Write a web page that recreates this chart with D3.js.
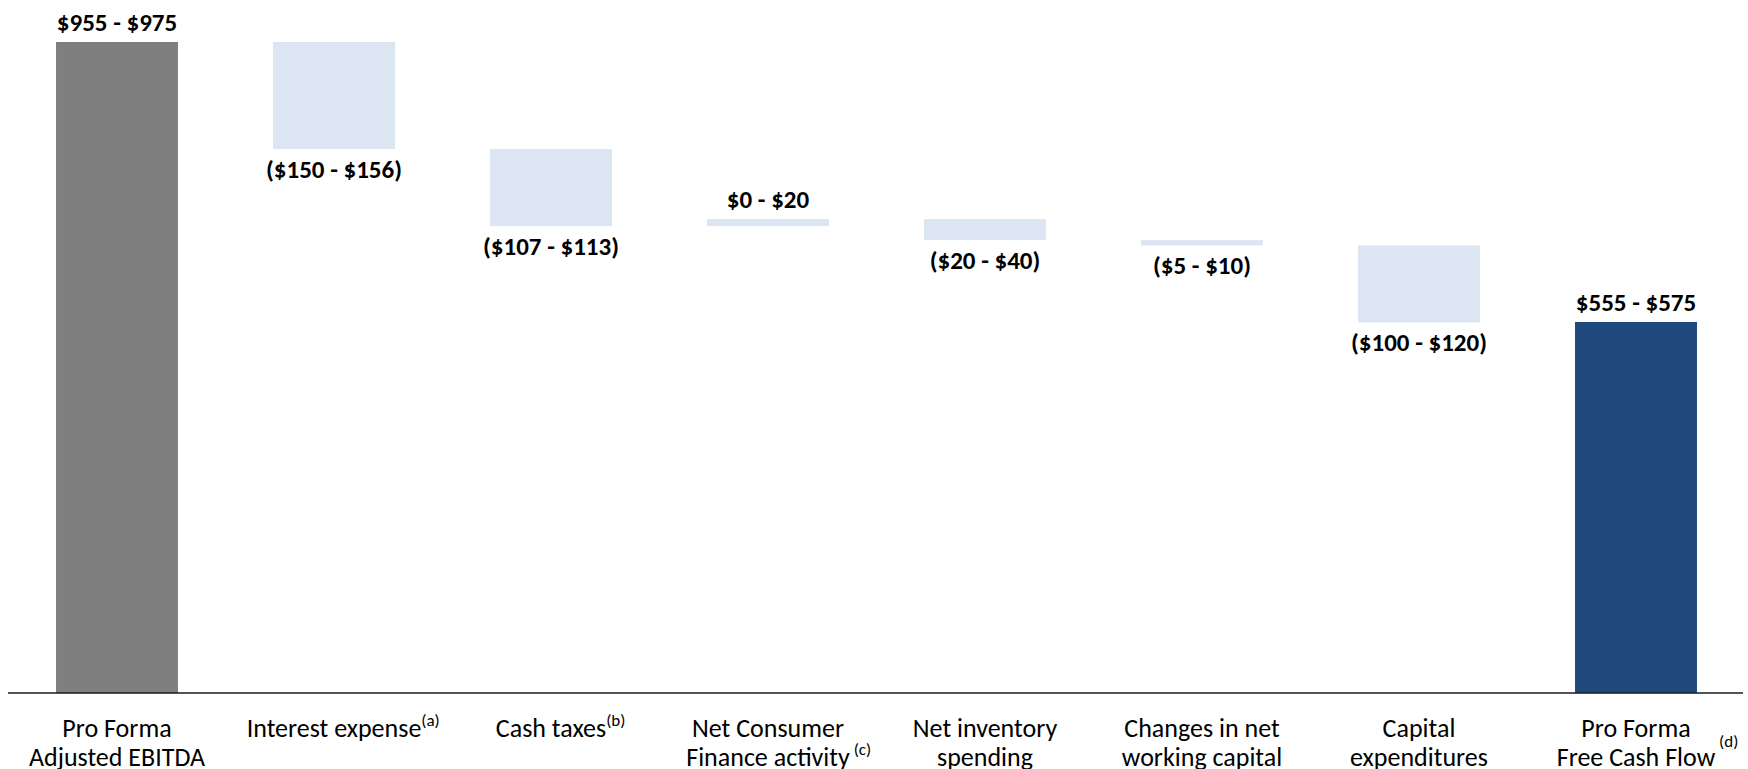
<!DOCTYPE html>
<meta charset="utf-8">
<title>Pro Forma Free Cash Flow bridge</title>
<script src="https://cdn.jsdelivr.net/npm/d3@7"></script>
<style>
  body { margin: 0; background: #fff; }
  svg text { font-family: Carlito, Calibri, Lato, sans-serif; fill: #000; }
  .val { font-size: 25px; font-weight: 700; }
  .cat { font-size: 26px; }
  .note { font-size: 17px; }
</style>
<div id="chart"></div>
<script>

  // categories, split into label lines
  var categories = ["ebitda", "interest", "taxes", "consumer", "inventory", "nwc", "capex", "fcf"];
  var catLines = [
    ["Pro Forma", "Adjusted EBITDA"],
    ["Interest expense"],
    ["Cash taxes"],
    ["Net Consumer", "Finance activity"],
    ["Net inventory", "spending"],
    ["Changes in net", "working capital"],
    ["Capital", "expenditures"],
    ["Pro Forma", "Free Cash Flow"]
  ];
  var notes = ["", "(a)", "(b)", " (c)", "", "", "", " (d)"];

  // ranges ($ millions), low and high end
  var lowVals = [955, 150, 107, 0, 20, 5, 100, 555];
  var highVals = [975, 156, 113, 20, 40, 10, 120, 575];
  // total / decrease / increase
  var kinds = ["total", "neg", "neg", "pos", "neg", "neg", "neg", "total"];

  var axisMin = 35;

  var width = 1748, height = 769;
  var svg = d3.select("#chart").append("svg")
    .attr("width", width)
    .attr("height", height);

  // build the waterfall steps from the midpoints
  var running = 0;
  var steps = categories.map(function (c, i) {
    var mid = (lowVals[i] + highVals[i]) / 2;
    var s = { key: c, i: i, kind: kinds[i], low: lowVals[i], high: highVals[i] };
    if (kinds[i] == "total") {
      s.y0 = axisMin; s.y1 = mid; running = mid;
    } else if (kinds[i] == "neg") {
      s.y0 = running - mid; s.y1 = running; running = running - mid;
    } else {
      s.y0 = running; s.y1 = running + mid; running = running + mid;
    }
    return s;
  });

  var x = d3.scaleBand()
    .domain(categories)
    .range([8.5, 1744.5])
    .paddingInner(0.438)
    .paddingOuter(0.219);

  var y = d3.scaleLinear()
    .domain([axisMin, d3.max(steps, function (d) { return d.y1; })])
    .range([693, 42]);

  var color = { total: "#7f7f7f", neg: "#dce6f2", pos: "#dce6f2" };

  svg.append("g").selectAll("rect")
    .data(steps)
    .enter().append("rect")
    .attr("x", function (d) { return x(d.key); })
    .attr("width", x.bandwidth())
    .attr("y", function (d) { return y(d.y1); })
    .attr("height", function (d) { return y(d.y0) - y(d.y1); })
    .attr("fill", function (d) { return d.key == "fcf" ? "#1f497d" : color[d.kind]; });

  // baseline
  svg.append("line")
    .attr("x1", 8).attr("x2", 1743)
    .attr("y1", y(axisMin)).attr("y2", y(axisMin))
    .attr("stroke", "#1a1a1a")
    .attr("stroke-width", 1.5);

  // value labels
  svg.append("g").selectAll("text")
    .data(steps)
    .enter().append("text")
    .attr("class", "val")
    .attr("text-anchor", "middle")
    .attr("x", function (d) { return x(d.key) + x.bandwidth() / 2; })
    .attr("y", function (d) {
      return d.kind == "neg" ? y(d.y0) + 29 : y(d.y1) - 11;
    })
    .text(function (d) {
      var t = "$" + d.low + " - $" + d.high;
      return d.kind == "neg" ? "(" + t + ")" : t;
    });

  // category labels, footnote marker hung off the last line
  var cats = svg.append("g").selectAll("g")
    .data(steps)
    .enter().append("g");

  cats.each(function (d) {
    var g = d3.select(this);
    var cx = x(d.key) + x.bandwidth() / 2;
    var lines = catLines[d.i];
    var last;
    lines.forEach(function (l, k) {
      last = g.append("text")
        .attr("class", "cat")
        .attr("text-anchor", "middle")
        .attr("x", cx)
        .attr("y", 737 + k * 29)
        .text(l);
    });
    if (notes[d.i]) {
      var w = last.node().getComputedTextLength();
      var yy = 737 + (lines.length - 1) * 29;
      var raise = d.key == "fcf" ? 19 : 11;
      g.append("text")
        .attr("class", "note")
        .attr("xml:space", "preserve")
        .attr("x", cx + w / 2)
        .attr("y", yy - raise)
        .text(notes[d.i]);
    }
  });

</script>
